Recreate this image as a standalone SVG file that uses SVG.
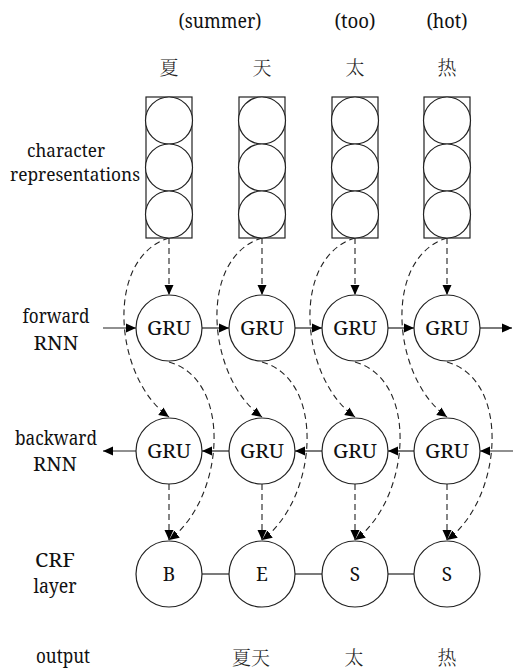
<svg xmlns="http://www.w3.org/2000/svg" width="513" height="671" viewBox="0 0 513 671">
<style>
.t{font-family:"Noto Serif","Liberation Serif","Times New Roman",serif;font-size:19px;fill:#111;text-anchor:middle}
.c{font-family:"Noto Serif CJK SC","Noto Sans CJK SC","Noto Sans CJK JP",sans-serif;font-size:19px;font-weight:300;fill:#222;text-anchor:middle}
.n{fill:#fff;stroke:#222;stroke-width:1.2}
.s{fill:none;stroke:#222;stroke-width:1.2}
.d{fill:none;stroke:#222;stroke-width:1.1;stroke-dasharray:6 4}
</style>
<defs>
<marker id="a" markerWidth="10" markerHeight="10" refX="10" refY="4.5" orient="auto" markerUnits="userSpaceOnUse" viewBox="0 0 10 9">
<path d="M0,0 L10,4.5 L0,9 Z" fill="#000"/>
</marker>
</defs>
<g id="labels">
<text class="t" x="220" y="28" textLength="83" lengthAdjust="spacingAndGlyphs">(summer)</text>
<text class="t" x="355" y="28" textLength="41" lengthAdjust="spacingAndGlyphs">(too)</text>
<text class="t" x="447" y="28" textLength="41" lengthAdjust="spacingAndGlyphs">(hot)</text>
<text class="c" x="169" y="75">夏</text>
<text class="c" x="262" y="75">天</text>
<text class="c" x="355" y="75">太</text>
<text class="c" x="447" y="75">热</text>
<text class="t" x="66" y="157" style="font-size:18px" textLength="78" lengthAdjust="spacingAndGlyphs">character</text>
<text class="t" x="75" y="181" style="font-size:18px" textLength="130" lengthAdjust="spacingAndGlyphs">representations</text>
<text class="t" x="56" y="323" textLength="67" lengthAdjust="spacingAndGlyphs">forward</text>
<text class="t" x="56" y="350" textLength="45" lengthAdjust="spacingAndGlyphs">RNN</text>
<text class="t" x="56" y="445" textLength="82" lengthAdjust="spacingAndGlyphs">backward</text>
<text class="t" x="55" y="471" textLength="44" lengthAdjust="spacingAndGlyphs">RNN</text>
<text class="t" x="55" y="567" textLength="40" lengthAdjust="spacingAndGlyphs">CRF</text>
<text class="t" x="55" y="593" textLength="43" lengthAdjust="spacingAndGlyphs">layer</text>
<text class="t" x="63" y="663" textLength="54" lengthAdjust="spacingAndGlyphs">output</text>
<text class="c" x="251" y="665">夏天</text>
<text class="c" x="354" y="665">太</text>
<text class="c" x="447" y="665">热</text>
</g>
<g id="connectors">
<line class="s" x1="103" y1="328" x2="136" y2="328" marker-end="url(#a)"/>
<line class="s" x1="202" y1="328" x2="229" y2="328" marker-end="url(#a)"/>
<line class="s" x1="295" y1="328" x2="322" y2="328" marker-end="url(#a)"/>
<line class="s" x1="388" y1="328" x2="414" y2="328" marker-end="url(#a)"/>
<line class="s" x1="480" y1="328" x2="512" y2="328" marker-end="url(#a)"/>
<line class="s" x1="513" y1="451" x2="480" y2="451" marker-end="url(#a)"/>
<line class="s" x1="414" y1="451" x2="388" y2="451" marker-end="url(#a)"/>
<line class="s" x1="322" y1="451" x2="295" y2="451" marker-end="url(#a)"/>
<line class="s" x1="229" y1="451" x2="202" y2="451" marker-end="url(#a)"/>
<line class="s" x1="136" y1="451" x2="103" y2="451" marker-end="url(#a)"/>
<line class="s" x1="202" y1="574" x2="229" y2="574"/>
<line class="s" x1="295" y1="574" x2="322" y2="574"/>
<line class="s" x1="388" y1="574" x2="414" y2="574"/>
<g id="dash1">
<line class="d" x1="169" y1="238" x2="169" y2="295" marker-end="url(#a)"/>
<path class="d" d="M169,238 C104,258 114,378 169,417" marker-end="url(#a)"/>
<path class="d" d="M169,362 C234,380 224,500 169,540" marker-end="url(#a)"/>
<line class="d" x1="169" y1="484" x2="169" y2="540" marker-end="url(#a)"/>
</g>
<g id="dash2">
<line class="d" x1="262" y1="238" x2="262" y2="295" marker-end="url(#a)"/>
<path class="d" d="M262,238 C197,258 207,378 262,417" marker-end="url(#a)"/>
<path class="d" d="M262,362 C327,380 317,500 262,540" marker-end="url(#a)"/>
<line class="d" x1="262" y1="484" x2="262" y2="540" marker-end="url(#a)"/>
</g>
<g id="dash3">
<line class="d" x1="355" y1="238" x2="355" y2="295" marker-end="url(#a)"/>
<path class="d" d="M355,238 C290,258 300,378 355,417" marker-end="url(#a)"/>
<path class="d" d="M355,362 C420,380 410,500 355,540" marker-end="url(#a)"/>
<line class="d" x1="355" y1="484" x2="355" y2="540" marker-end="url(#a)"/>
</g>
<g id="dash4">
<line class="d" x1="447" y1="238" x2="447" y2="295" marker-end="url(#a)"/>
<path class="d" d="M447,238 C382,258 392,378 447,417" marker-end="url(#a)"/>
<path class="d" d="M447,362 C512,380 502,500 447,540" marker-end="url(#a)"/>
<line class="d" x1="447" y1="484" x2="447" y2="540" marker-end="url(#a)"/>
</g>
</g>
<g id="rep1"><rect class="n" x="146" y="97" width="46" height="141"/><circle class="n" cx="169" cy="120.5" r="23.5"/><circle class="n" cx="169" cy="167.5" r="23.5"/><circle class="n" cx="169" cy="214.5" r="23.5"/></g>
<g id="rep2"><rect class="n" x="239" y="97" width="46" height="141"/><circle class="n" cx="262" cy="120.5" r="23.5"/><circle class="n" cx="262" cy="167.5" r="23.5"/><circle class="n" cx="262" cy="214.5" r="23.5"/></g>
<g id="rep3"><rect class="n" x="332" y="97" width="46" height="141"/><circle class="n" cx="355" cy="120.5" r="23.5"/><circle class="n" cx="355" cy="167.5" r="23.5"/><circle class="n" cx="355" cy="214.5" r="23.5"/></g>
<g id="rep4"><rect class="n" x="424" y="97" width="46" height="141"/><circle class="n" cx="447" cy="120.5" r="23.5"/><circle class="n" cx="447" cy="167.5" r="23.5"/><circle class="n" cx="447" cy="214.5" r="23.5"/></g>
<g id="fwd1"><circle class="n" cx="169" cy="328" r="33"/><text class="t" x="169" y="335" textLength="44" lengthAdjust="spacingAndGlyphs">GRU</text></g>
<g id="fwd2"><circle class="n" cx="262" cy="328" r="33"/><text class="t" x="262" y="335" textLength="44" lengthAdjust="spacingAndGlyphs">GRU</text></g>
<g id="fwd3"><circle class="n" cx="355" cy="328" r="33"/><text class="t" x="355" y="335" textLength="44" lengthAdjust="spacingAndGlyphs">GRU</text></g>
<g id="fwd4"><circle class="n" cx="447" cy="328" r="33"/><text class="t" x="447" y="335" textLength="44" lengthAdjust="spacingAndGlyphs">GRU</text></g>
<g id="bwd1"><circle class="n" cx="169" cy="451" r="33"/><text class="t" x="169" y="458" textLength="44" lengthAdjust="spacingAndGlyphs">GRU</text></g>
<g id="bwd2"><circle class="n" cx="262" cy="451" r="33"/><text class="t" x="262" y="458" textLength="44" lengthAdjust="spacingAndGlyphs">GRU</text></g>
<g id="bwd3"><circle class="n" cx="355" cy="451" r="33"/><text class="t" x="355" y="458" textLength="44" lengthAdjust="spacingAndGlyphs">GRU</text></g>
<g id="bwd4"><circle class="n" cx="447" cy="451" r="33"/><text class="t" x="447" y="458" textLength="44" lengthAdjust="spacingAndGlyphs">GRU</text></g>
<g id="crf1"><circle class="n" cx="169" cy="574" r="33"/><text class="t" x="169" y="581">B</text></g>
<g id="crf2"><circle class="n" cx="262" cy="574" r="33"/><text class="t" x="262" y="581">E</text></g>
<g id="crf3"><circle class="n" cx="355" cy="574" r="33"/><text class="t" x="355" y="581">S</text></g>
<g id="crf4"><circle class="n" cx="447" cy="574" r="33"/><text class="t" x="447" y="581">S</text></g>
</svg>
